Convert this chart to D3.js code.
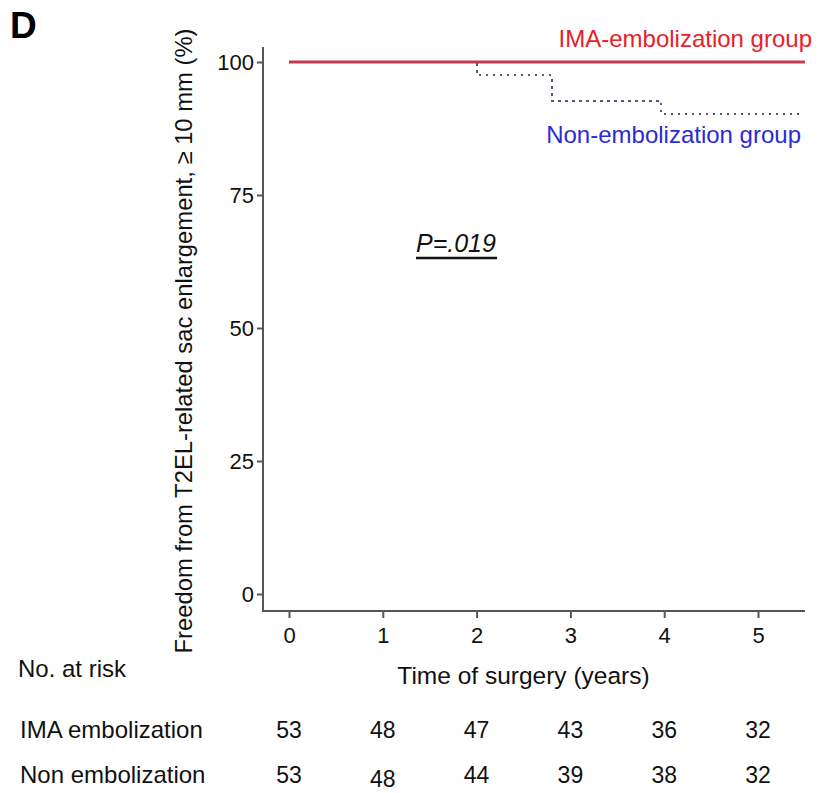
<!DOCTYPE html>
<meta charset="utf-8">
<style>
  body { margin: 0; background: #fff; }
  text { font-family: "Liberation Sans", Arial, sans-serif; }
  .axis text { font-size: 22px; fill: #111; }
  .axis line { stroke: #555; stroke-width: 2px; }
</style>
<svg class="km_chart" width="819" height="793"></svg>
<script src="https://d3js.org/d3.v7.min.js"></script>
<script>
  var years = [0, 1, 2, 3, 4, 5];
  var yTicks = [0, 25, 50, 75, 100];
  // step points of the curves (time in years, % free of enlargement)
  var imaTimes = [0, 5.5];
  var imaValues = [100, 100];
  var nonTimes = [0, 2.0, 2.8, 3.97, 5.45];
  var nonValues = [100, 97.5, 92.7, 90.2, 90.2];
  var riskGroups = ["IMA embolization", "Non embolization"];
  var riskIMA = [53, 48, 47, 43, 36, 32];
  var riskNon = [53, 48, 44, 39, 38, 32];

  var svg = d3.select(".km_chart");

  var x = d3.scaleLinear().domain([0, 5]).range([289, 758]);
  var y = d3.scaleLinear().domain([0, 100]).range([594, 62]);

  // panel letter
  svg.append("text")
      .attr("x", 10).attr("y", 38)
      .style("font-size", "37px").style("font-weight", "bold")
      .text("D");

  // y axis
  var gy = svg.append("g")
      .attr("class", "axis")
      .attr("transform", "translate(263,0)")
      .call(d3.axisLeft(y).tickValues(yTicks).tickSize(6).tickPadding(3));
  gy.select(".domain").remove();
  gy.selectAll("text").attr("dy", "0.36em");
  gy.append("line")
      .attr("x1", 0).attr("x2", 0)
      .attr("y1", 47).attr("y2", 612);

  // x axis
  var gx = svg.append("g")
      .attr("class", "axis")
      .attr("transform", "translate(0,611)")
      .call(d3.axisBottom(x).tickValues(years).tickFormat(d3.format("d")).tickSize(7).tickPadding(9));
  gx.select(".domain").remove();
  gx.append("line")
      .attr("x1", 262).attr("x2", 805)
      .attr("y1", 0).attr("y2", 0);

  // axis titles
  svg.append("text")
      .attr("transform", "translate(192,341) rotate(-90)")
      .attr("text-anchor", "middle")
      .style("font-size", "23.8px").style("fill", "#111")
      .text("Freedom from T2EL-related sac enlargement, \u2265 10 mm (%)");

  svg.append("text")
      .attr("x", x(2.5)).attr("y", 684)
      .attr("text-anchor", "middle")
      .style("font-size", "24.5px").style("fill", "#111")
      .text("Time of surgery (years)");

  // curves
  var line = d3.line()
      .x(function (d) { return x(d[0]); })
      .y(function (d) { return y(d[1]); })
      .curve(d3.curveStepAfter);

  svg.append("path")
      .datum(d3.zip(nonTimes, nonValues))
      .attr("fill", "none")
      .attr("stroke", "#4f5b70")
      .attr("stroke-width", 2)
      .attr("stroke-dasharray", "2.4,4.6")
      .attr("shape-rendering", "crispEdges")
      .attr("d", line);

  svg.append("path")
      .datum(d3.zip(imaTimes, imaValues))
      .attr("fill", "none")
      .attr("stroke", "#c23a4e")
      .attr("stroke-width", 3)
      .attr("d", line);

  // group labels
  svg.append("text")
      .attr("x", 812).attr("y", 47)
      .attr("text-anchor", "end")
      .style("font-size", "24px").style("fill", "#e8202a")
      .text("IMA-embolization group");
  svg.append("text")
      .attr("x", 801).attr("y", 143)
      .attr("text-anchor", "end")
      .style("font-size", "24px").style("fill", "#2b2bd6")
      .text("Non-embolization group");

  // p value
  svg.append("text")
      .attr("x", 416).attr("y", 252)
      .style("font-size", "25px").style("font-style", "italic").style("fill", "#111")
      .text("P=.019");
  svg.append("line")
      .attr("x1", 416).attr("x2", 497)
      .attr("y1", 258).attr("y2", 258)
      .attr("stroke", "#111").attr("stroke-width", 2.4);

  // number at risk table
  svg.append("text")
      .attr("x", 18).attr("y", 677)
      .style("font-size", "24px").style("fill", "#111")
      .text("No. at risk");

  var rows = [riskIMA, riskNon];
  var rowY = [738, 783];
  rows.forEach(function (vals, i) {
    svg.append("text")
        .attr("x", 20).attr("y", rowY[i])
        .style("font-size", "24px").style("fill", "#111")
        .text(riskGroups[i]);
    svg.append("g").selectAll("text")
        .data(vals)
        .enter().append("text")
            .attr("x", function (d, j) { return x(years[j]); })
            .attr("y", function (d, j) { return rowY[i] + (i === 1 && j === 1 ? 4 : 0); })
            .attr("text-anchor", "middle")
            .style("font-size", "23px").style("fill", "#111")
            .text(function (d) { return d; });
  });
</script>
